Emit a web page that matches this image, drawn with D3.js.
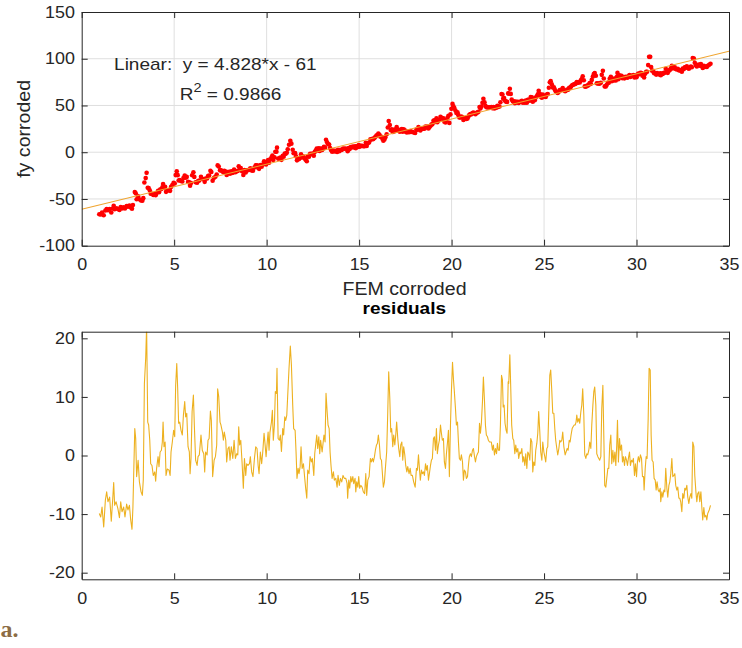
<!DOCTYPE html>
<html>
<head>
<meta charset="utf-8">
<script src="https://cdn.jsdelivr.net/npm/d3@7"></script>
<style>
    body { margin: 0; background: #fff; }
    svg { display: block; font-family: "Liberation Sans", Arial, sans-serif; }
</style>
</head>
<body>
<svg id="chart" width="742" height="648"></svg>
<script>
// FEM corroded (x) and residual of fy corroded against the linear fit
const samples = [
    [0.95,-9.9],[1.03,-10.5],[1.10,-8.8],[1.19,-12.2],[1.28,-7.6],[1.35,-6.2],[1.42,-7.9],[1.51,-7.1],[1.60,-11.2],[1.68,-7.3],
    [1.73,-4.6],[1.78,-8.5],[1.86,-7.9],[1.96,-9.1],[2.04,-10.6],[2.11,-7.9],[2.18,-9.6],[2.27,-8.8],[2.34,-10.5],[2.43,-8.3],
    [2.50,-9.3],[2.58,-8.5],[2.65,-11.0],[2.72,-12.6],[2.77,-8.8],[2.87,4.6],[2.92,2.9],[2.97,-3.6],[3.05,-0.8],[3.12,-4.5],
    [3.21,-6.2],[3.28,-6.8],[3.33,-4.2],[3.39,12.3],[3.46,16.6],[3.51,22.0],[3.57,5.7],[3.62,5.2],[3.68,2.6],[3.73,-1.4],
    [3.80,-1.7],[3.87,-3.4],[3.95,-2.8],[4.00,-4.4],[4.05,-2.2],[4.13,-0.2],[4.18,-1.9],[4.24,0.6],[4.31,0.9],[4.36,2.3],
    [4.40,5.7],[4.45,1.5],[4.51,2.3],[4.56,-3.4],[4.63,-2.3],[4.72,-2.5],[4.78,-3.4],[4.83,0.6],[4.90,2.3],[4.97,4.3],
    [5.03,3.2],[5.08,12.0],[5.14,15.7],[5.19,11.4],[5.24,5.5],[5.30,5.7],[5.37,4.3],[5.44,3.5],[5.50,6.9],[5.57,9.2],
    [5.62,6.6],[5.68,7.2],[5.75,1.5],[5.82,0.6],[5.86,-3.1],[5.91,-0.5],[5.97,7.5],[6.04,10.3],[6.09,5.2],[6.16,-0.8],
    [6.24,-1.7],[6.29,-0.2],[6.36,0.1],[6.45,3.5],[6.52,0.9],[6.60,0.3],[6.65,-2.8],[6.70,0.6],[6.78,0.1],[6.83,2.6],
    [6.89,2.9],[6.96,7.6],[7.01,6.0],[7.08,-3.6],[7.16,-0.8],[7.23,-0.2],[7.30,1.8],[7.35,11.4],[7.41,10.0],[7.48,5.7],
    [7.53,5.2],[7.61,4.0],[7.66,2.6],[7.71,4.0],[7.79,2.6],[7.84,-1.1],[7.91,1.2],[7.97,1.5],[8.02,-0.8],[8.09,1.5],
    [8.17,-0.5],[8.24,2.6],[8.31,-0.5],[8.38,0.3],[8.44,0.1],[8.49,4.9],[8.54,1.8],[8.60,2.6],[8.67,-1.1],[8.74,-5.6],
    [8.80,-0.5],[8.87,-3.4],[8.92,-1.4],[8.99,-1.7],[9.07,-1.4],[9.12,-0.2],[9.19,-2.8],
    [9.26,-3.6],[9.34,-0.5],[9.41,1.5],[9.48,1.2],[9.54,-1.7],[9.59,-3.1],[9.66,0.6],[9.73,-1.4],[9.79,0.6],[9.86,3.8],
    [9.91,2.1],[9.97,-0.2],[10.02,1.8],[10.08,4.0],[10.13,0.9],[10.18,4.0],[10.26,5.7],[10.31,7.7],[10.36,2.6],[10.42,5.2],
    [10.47,10.9],[10.53,10.6],[10.56,14.9],[10.62,2.9],[10.69,2.6],[10.74,3.5],[10.80,0.7],[10.87,4.6],[10.92,3.5],[10.98,6.6],
    [11.03,6.0],[11.09,6.9],[11.14,10.3],[11.21,14.9],[11.28,18.7],[11.34,15.4],[11.41,8.6],[11.46,4.6],[11.54,4.3],[11.59,0.6],
    [11.64,-3.9],[11.70,-2.2],[11.75,-3.1],[11.81,-1.9],[11.86,1.5],[11.92,-2.2],[11.99,-1.4],[12.06,-3.9],[12.11,-5.6],[12.17,-7.3],
    [12.22,-2.5],[12.29,-3.1],[12.35,-0.2],[12.42,-1.1],[12.47,-0.5],[12.55,-3.4],[12.60,0.3],[12.65,1.8],[12.71,3.5],[12.76,1.2],
    [12.82,3.2],[12.87,0.3],[12.92,2.6],[13.00,0.6],[13.05,2.1],[13.10,3.5],[13.16,2.3],[13.21,10.6],[13.27,7.5],[13.32,5.2],
    [13.38,4.6],[13.43,0.6],[13.48,-1.7],[13.54,-3.9],[13.61,-2.8],[13.66,-4.2],[13.74,-3.9],[13.81,-5.4],[13.86,-3.4],[13.93,-5.1],
    [13.99,-3.9],[14.06,-4.5],[14.13,-3.4],[14.20,-3.9],[14.28,-3.9],[14.35,-4.8],[14.38,-7.3],[14.44,-4.2],[14.49,-5.6],[14.55,-3.6],
    [14.60,-4.5],[14.66,-3.6],[14.71,-4.8],[14.78,-3.9],[14.82,-6.2],[14.87,-4.5],[14.93,-5.4],[14.98,-3.6],[15.03,-5.6],[15.09,-5.1],
    [15.16,-5.4],[15.23,-6.2],[15.30,-6.5],[15.36,-3.1],[15.41,-6.8],[15.47,-4.2],[15.54,-3.6],[15.61,-0.5],[15.66,-1.1],[15.72,-0.5],
    [15.77,-1.1],[15.83,-0.2],[15.88,0.9],[15.94,1.8],[15.99,2.1],[16.04,3.5],[16.10,1.8],[16.15,-0.5],[16.21,-0.8],[16.26,-3.1],
    [16.31,-5.4],[16.37,-4.5],[16.42,-2.2],[16.49,0.6],[16.55,7.5],[16.60,14.3],[16.66,9.7],[16.71,4.0],[16.76,4.6],[16.82,1.5],
    [16.87,3.5],[16.93,1.8],[16.98,3.5],[17.03,5.7],[17.09,2.9],[17.14,1.2],[17.20,-0.2],[17.25,1.8],[17.31,2.3],[17.36,-0.8],
    [17.41,1.5],[17.47,0.1],[17.52,-1.7],[17.58,-2.8],[17.63,-1.9],
    [17.70,-3.1],[17.76,-2.2],[17.81,-3.4],[17.88,-3.4],[17.95,-4.5],[18.03,-5.4],[18.10,-2.2],[18.15,-2.5],[18.21,0.1],[18.26,-2.2],
    [18.31,-4.2],[18.37,-2.5],[18.42,-3.1],[18.48,-2.8],[18.53,-3.4],[18.59,-1.4],[18.64,-2.5],[18.69,-1.7],[18.75,-4.2],[18.80,-3.1],
    [18.86,-1.7],[18.91,-0.8],[18.96,-0.5],[19.02,2.9],[19.07,3.2],[19.13,0.9],[19.18,4.6],[19.23,0.3],[19.29,1.8],[19.34,2.6],
    [19.40,5.2],[19.45,3.8],[19.50,2.6],[19.56,2.9],[19.61,-1.1],[19.67,-2.2],[19.72,0.3],[19.78,2.3],[19.83,4.3],[19.88,-3.6],
    [19.94,5.2],[19.99,10.9],[20.05,15.9],[20.10,13.1],[20.15,10.9],[20.21,8.0],[20.26,5.2],[20.32,5.7],[20.37,2.3],[20.42,-0.5],
    [20.48,-0.8],[20.53,0.1],[20.59,-1.1],[20.64,-4.2],[20.69,-2.5],[20.75,-2.8],[20.80,-3.9],[20.86,-3.6],[20.91,-1.7],[20.96,-0.2],
    [21.02,0.3],[21.07,-0.2],[21.13,0.9],[21.18,1.2],[21.24,-0.2],[21.29,-1.1],[21.34,-0.2],[21.40,0.3],[21.45,0.6],[21.51,5.5],
    [21.56,3.8],[21.61,5.5],[21.67,9.2],[21.72,13.4],[21.78,9.2],[21.83,5.2],[21.88,3.5],[21.94,3.2],[21.99,2.6],[22.05,2.3],
    [22.10,2.3],[22.15,2.3],[22.21,0.9],[22.26,1.8],[22.32,0.1],[22.37,1.2],[22.43,0.3],[22.48,2.1],[22.53,0.9],[22.59,0.9],
    [22.64,5.2],[22.70,13.7],[22.75,12.9],[22.79,8.3],[22.84,8.6],[22.89,5.5],[22.95,4.3],[23.00,3.8],[23.06,12.6],[23.09,12.3],
    [23.15,17.2],[23.20,11.4],[23.25,5.2],[23.31,2.9],[23.36,2.6],[23.42,0.3],[23.47,1.8],[23.52,0.6],[23.58,1.2],[23.63,-0.5],
    [23.69,0.6],[23.74,0.3],[23.80,1.2],[23.85,-1.1],[23.90,-0.2],[23.96,-1.7],[24.01,0.3],[24.07,-2.2],[24.12,0.6],[24.17,0.3],
    [24.23,-0.8],[24.28,2.9],[24.34,2.3],[24.39,-2.8],[24.44,-1.1],[24.50,-1.7],[24.55,0.9],[24.61,2.1],[24.66,3.8],[24.71,7.5],
    [24.77,4.0],[24.82,0.6],[24.88,-0.8],[24.93,2.3],[24.99,0.6],[25.04,-0.2],[25.09,-1.1],[25.15,1.2],[25.20,1.5],[25.26,8.0],
    [25.31,13.7],[25.36,14.6],[25.42,10.9],[25.47,7.2],[25.53,7.2],[25.58,4.6],[25.63,2.6],[25.69,1.2],[25.74,0.1],[25.80,1.2],
    [25.85,2.6],[25.90,2.3],[25.96,2.6],[26.01,4.0],[26.07,1.5],
    [26.14,0.1],[26.19,0.6],[26.25,1.2],[26.30,0.9],[26.36,2.6],[26.41,2.3],[26.46,3.5],[26.52,4.6],[26.57,4.9],[26.63,5.2],
    [26.68,5.2],[26.73,5.7],[26.77,6.9],[26.82,5.7],[26.88,6.3],[26.93,5.5],[26.99,7.5],[27.04,8.6],[27.09,11.4],[27.15,6.9],
    [27.20,0.1],[27.26,-0.5],[27.31,0.3],[27.36,0.1],[27.42,0.9],[27.47,2.3],[27.53,1.2],[27.58,5.2],[27.64,8.6],[27.69,10.9],
    [27.74,11.7],[27.80,8.6],[27.85,0.3],[27.91,-0.2],[27.96,-0.5],[28.01,-0.8],[28.07,-0.2],[28.12,8.0],[28.18,12.0],[28.23,3.5],
    [28.28,-5.1],[28.34,-5.4],[28.39,-3.9],[28.45,-2.2],[28.50,-2.2],[28.55,1.8],[28.61,3.5],[28.66,-1.4],[28.72,0.9],[28.77,-1.1],
    [28.83,0.6],[28.88,-1.7],[28.93,1.8],[28.97,6.0],[29.02,-1.1],[29.08,2.9],[29.13,0.9],[29.19,1.8],[29.24,-1.1],[29.29,-0.2],
    [29.35,-1.7],[29.40,-0.2],[29.46,-0.8],[29.51,-1.7],[29.56,-0.5],[29.62,0.6],[29.67,-1.7],[29.73,-0.8],[29.78,-1.1],[29.83,-0.5],
    [29.89,-3.4],[29.94,-1.4],[30.00,-3.6],[30.05,-1.1],[30.10,-0.2],[30.16,-1.1],[30.21,0.1],[30.27,-0.5],[30.32,-3.6],[30.38,-3.6],
    [30.41,-5.9],[30.47,-2.2],[30.52,-0.2],[30.57,-0.5],[30.63,6.3],[30.68,14.9],[30.74,14.6],[30.79,3.5],[30.84,-0.8],[30.90,-1.1],
    [30.95,-3.9],[31.01,-4.2],[31.06,-5.9],[31.11,-4.5],[31.17,-5.9],[31.22,-6.2],[31.28,-5.6],[31.31,-7.9],[31.37,-6.2],[31.42,-7.1],
    [31.48,-5.9],[31.53,-6.2],[31.58,-2.2],[31.64,-5.6],[31.69,-7.1],[31.75,-5.1],[31.80,-4.5],[31.85,-3.1],[31.91,-0.5],[31.96,-3.6],
    [32.02,-3.4],[32.07,-3.1],[32.12,-5.1],[32.18,-5.9],[32.23,-5.4],[32.29,-7.3],[32.34,-7.3],[32.39,-7.9],[32.45,-9.6],[32.50,-6.5],
    [32.56,-7.3],[32.61,-5.6],[32.66,-5.9],[32.72,-5.1],[32.77,-7.1],[32.83,-8.2],[32.88,-7.1],[32.94,-6.5],[32.99,-7.3],[33.04,2.3],
    [33.10,1.5],[33.15,-3.4],[33.21,-6.2],[33.26,-7.9],[33.31,-6.5],[33.37,-6.2],[33.42,-7.9],[33.48,-6.2],[33.53,-8.8],[33.58,-11.0],
    [33.64,-8.9],[33.69,-10.5],[33.75,-10.2],[33.80,-11.0],[33.85,-9.9],[33.93,-9.3],[34.00,-8.5]
];
const femX = samples.map(d => d[0]);
const residuals = samples.map(d => d[1]);

// fit shown in the figure
const fitSlope = 4.828;
const fitIntercept = -61;
const fitR2 = 0.9866;

const xTicks = [0, 5, 10, 15, 20, 25, 30, 35];
const fyTicks = [-100, -50, 0, 50, 100, 150];
const resTicks = [-20, -10, 0, 10, 20];

// fy corroded = fit + residual
const points = femX.map((fx, i) => ({
    x: fx,
    fy: fitSlope * fx + fitIntercept + residuals[i],
    res: residuals[i]
}));

const svg = d3.select('#chart');
const ink = '#262626';
const squeeze = 1.12;   // glyphs in the figure are a bit wider than Arial

const x = d3.scaleLinear().domain([0, 35]).range([81.7, 729]);
const yFy = d3.scaleLinear().domain([-100, 150]).range([245.7, 12]);
const yRes = d3.scaleLinear().domain([-21.13, 21.13]).range([579.3, 331.7]);

function addText(px, py, str, size, opts = {}) {
    const g = svg.append('g')
        .attr('transform', `translate(${px},${py}) ${opts.rotate ? 'rotate(-90)' : ''} scale(${squeeze},1)`);
    const t = g.append('text')
        .attr('font-size', size)
        .attr('fill', opts.fill || ink)
        .attr('text-anchor', opts.anchor || 'start')
        .attr('font-weight', opts.bold ? 'bold' : null)
        .style('white-space', 'pre');
    if (str) t.text(str);
    return t;
}

function drawPanel(yScale, yTicks, grid, clipId) {
    const [yb, yt] = yScale.range();
    const [xl, xr] = x.range();

    svg.append('clipPath').attr('id', clipId)
        .append('rect')
        .attr('x', xl).attr('y', yt)
        .attr('width', xr - xl).attr('height', yb - yt);

    if (grid) {
        const gg = svg.append('g').attr('stroke', '#dfdfdf').attr('stroke-width', 1);
        gg.selectAll('.gx')
            .data(xTicks.slice(1, -1))
            .join('line')
            .attr('x1', d => x(d)).attr('x2', d => x(d))
            .attr('y1', yt).attr('y2', yb);
        gg.selectAll('.gy')
            .data(yTicks.filter(d => yScale(d) > yt + 1 && yScale(d) < yb - 1))
            .join('line')
            .attr('x1', xl).attr('x2', xr)
            .attr('y1', d => yScale(d)).attr('y2', d => yScale(d));
    }
}

function drawAxes(yScale, yTicks) {
    const [yb, yt] = yScale.range();
    const [xl, xr] = x.range();
    const fmt = d => String(d);

    const bottom = svg.append('g')
        .attr('transform', `translate(0,${yb})`)
        .call(d3.axisBottom(x).tickValues(xTicks).tickSize(-6).tickSizeOuter(0).tickPadding(13).tickFormat(fmt));
    const topAx = svg.append('g')
        .attr('transform', `translate(0,${yt})`)
        .call(d3.axisTop(x).tickValues(xTicks).tickSize(-6).tickSizeOuter(0).tickFormat(''));
    const leftAx = svg.append('g')
        .attr('transform', `translate(${xl},0)`)
        .call(d3.axisLeft(yScale).tickValues(yTicks).tickSize(-6).tickSizeOuter(0).tickPadding(6).tickFormat(fmt));
    const rightAx = svg.append('g')
        .attr('transform', `translate(${xr},0)`)
        .call(d3.axisRight(yScale).tickValues(yTicks).tickSize(-6).tickSizeOuter(0).tickFormat(''));

    [bottom, topAx, leftAx, rightAx].forEach(a => {
        a.attr('font-size', 16).attr('font-family', null);
        a.selectAll('path, line').attr('stroke', ink);
        a.selectAll('text').attr('fill', ink).attr('transform', `scale(${squeeze},1)`);
    });
}

// ---- top panel: fy corroded vs FEM corroded ----
drawPanel(yFy, fyTicks, true, 'clip-top');

svg.append('g')
    .attr('clip-path', 'url(#clip-top)')
    .selectAll('circle')
    .data(points)
    .join('circle')
    .attr('cx', d => x(d.x))
    .attr('cy', d => yFy(d.fy))
    .attr('r', 2.3)
    .attr('fill', '#ff0000');

svg.append('path')
    .datum(x.domain())
    .attr('clip-path', 'url(#clip-top)')
    .attr('fill', 'none')
    .attr('stroke', '#f0a530')
    .attr('stroke-width', 1.1)
    .attr('d', d3.line().x(d => x(d)).y(d => yFy(fitSlope * d + fitIntercept)));

drawAxes(yFy, fyTicks);

addText(x(1.75), yFy(87.7), `Linear:\u00a0 y = ${fitSlope}*x - ${Math.abs(fitIntercept)}`, 17);
const r2 = addText(x(5.3), yFy(55.6), null, 17);
r2.append('tspan').text('R');
r2.append('tspan').attr('dy', -8.3).attr('font-size', 13).text('2');
r2.append('tspan').attr('dy', 8.3).text(`\u00a0= ${fitR2}`);

addText(404.5, 295, 'FEM corroded', 17.5, { anchor: 'middle' });
addText(29.5, (yFy.range()[0] + yFy.range()[1]) / 2, 'fy corroded', 17.5, { anchor: 'middle', rotate: true });

// ---- bottom panel: residuals ----
drawPanel(yRes, resTicks, false, 'clip-res');

svg.append('path')
    .datum(points)
    .attr('clip-path', 'url(#clip-res)')
    .attr('fill', 'none')
    .attr('stroke', '#edb120')
    .attr('stroke-width', 1.1)
    .attr('stroke-linejoin', 'round')
    .attr('d', d3.line().x(d => x(d.x)).y(d => yRes(d.res)));

drawAxes(yRes, resTicks);

addText(404.3, 314.3, 'residuals', 17, { anchor: 'middle', bold: true }).attr('fill', '#000');

// panel letter
svg.append('text')
    .attr('x', 0.5)
    .attr('y', 637)
    .attr('font-family', '"Liberation Serif", "DejaVu Serif", serif')
    .attr('font-weight', 'bold')
    .attr('font-size', 24)
    .attr('fill', '#8c6c45')
    .text('a.');
</script>
</body>
</html>
